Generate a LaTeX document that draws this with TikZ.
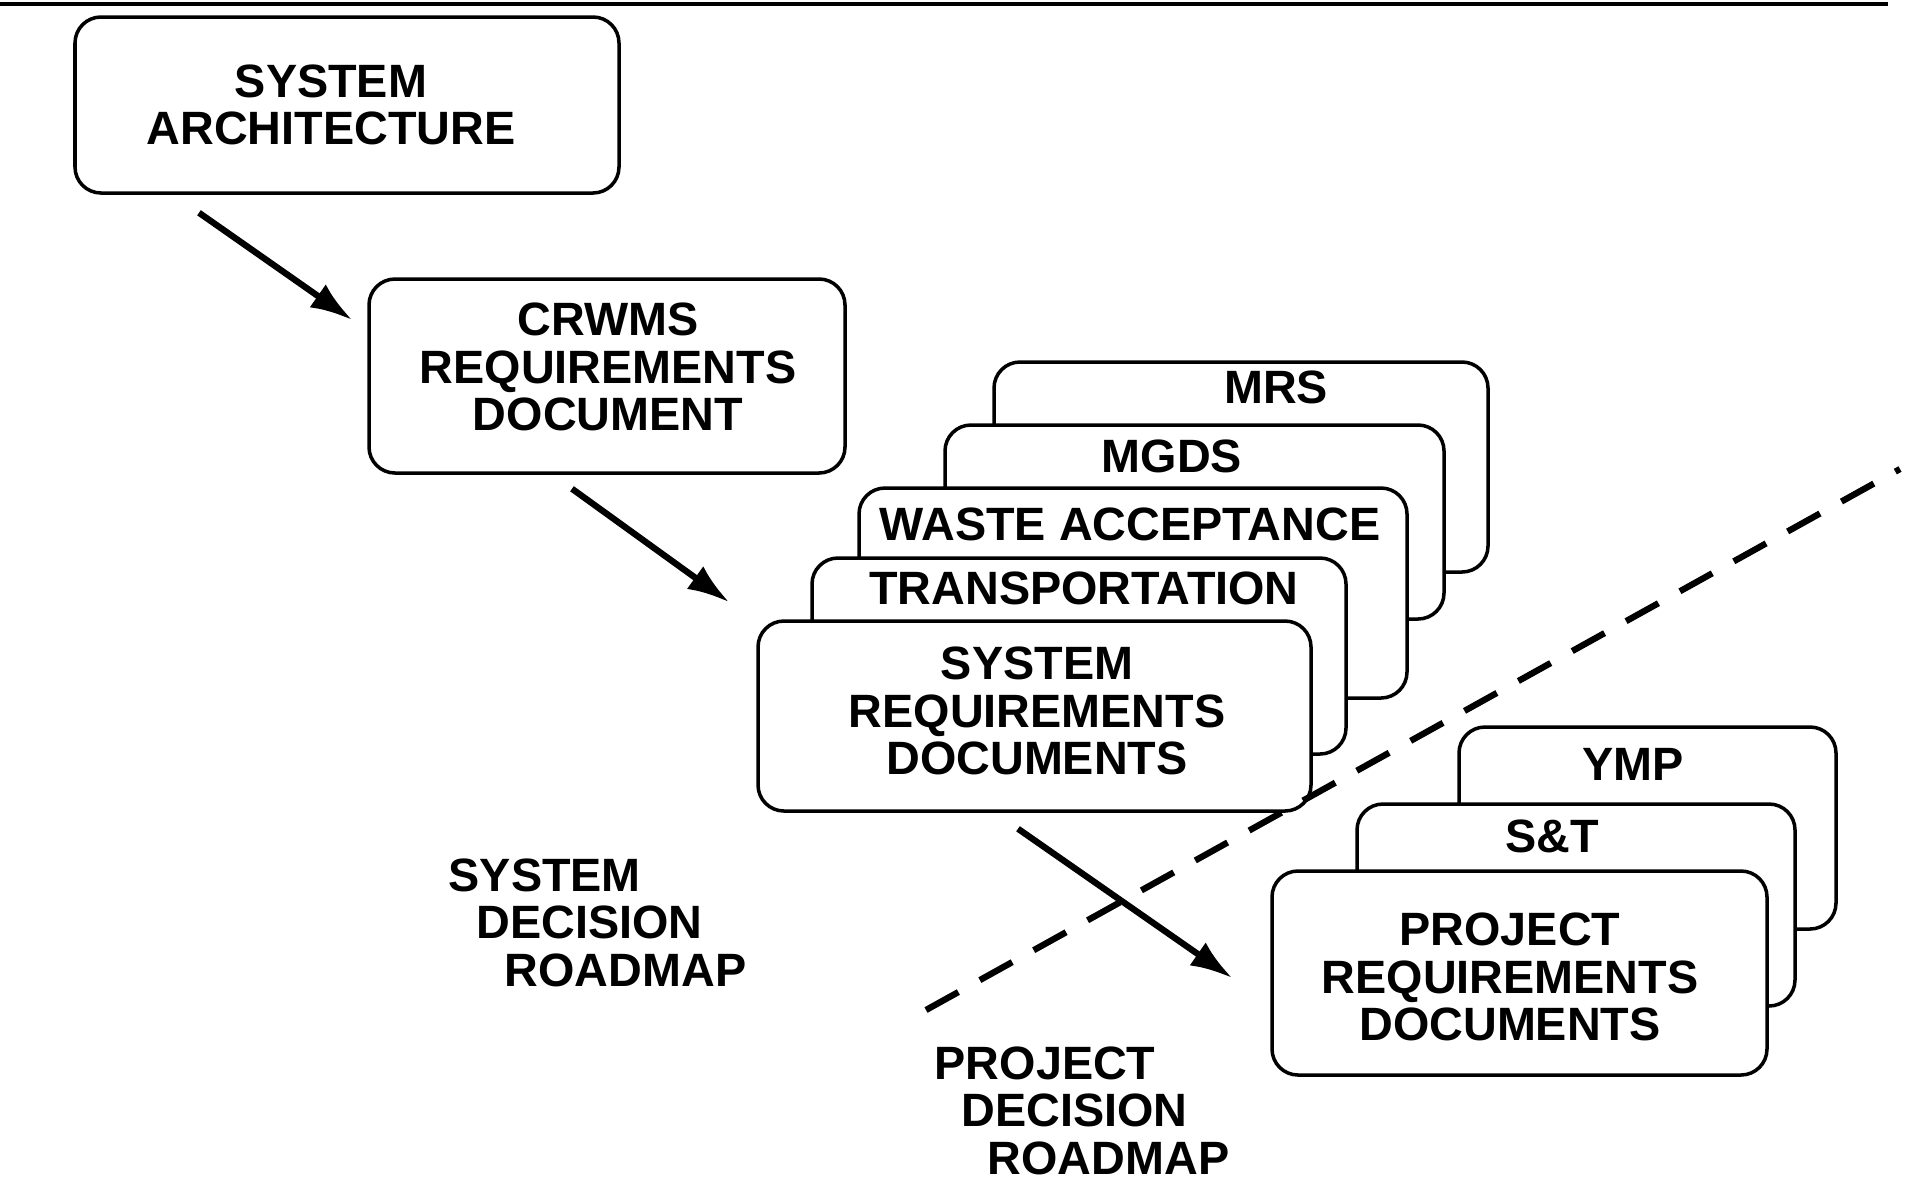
\documentclass[tikz,border=0pt]{standalone}
\usepackage{fontspec}
\setmainfont{Liberation Sans}
\usetikzlibrary{arrows.meta,positioning,calc}
\tikzset{
  label font/.style={font=\bfseries\fontsize{13.3}{13.5}\selectfont},
}

\begin{document}
\begin{tikzpicture}[
        x=0.1mm, y=-0.1mm,
        box/.style={rectangle, rounded corners=2.6mm, draw, line width=1pt, fill=white, inner sep=0pt},
        tag/.style={label font, align=center, inner sep=0pt},
        area/.style={label font, align=left, anchor=north west, inner sep=0pt},
        arrow/.style={-{Latex[length=4.2mm,width=2.8mm]}, line width=1.8pt},
        divider/.style={line width=1.8pt, dash pattern=on 3.7mm off 2.46mm}
    ]
    \useasboundingbox (0,0) rectangle (1910,1179);

    % Top rule
    \coordinate (ruleL) at (0,4);
    \coordinate (ruleR) at (1888,4);
    \draw[line width=1.4pt] (ruleL) -- (ruleR);

    % System level
    \node[box, minimum width=54.4mm, minimum height=17.6mm] (arch) at (347,105) {};
    \node[tag] (archtxt) at (331,105) {SYSTEM\\ARCHITECTURE};
    \node[box, minimum width=47.6mm, minimum height=19.4mm] (crwms) at (607,376) {};
    \node[tag] (crwmstxt) at (608,367) {CRWMS\\REQUIREMENTS\\DOCUMENT};

    % System requirements stack (back to front)
    \node[box, minimum width=49.4mm, minimum height=21.0mm] (mrs) at (1241,467) {};
    \node[tag] (mrstxt) at (1276,387) {MRS};
    \node[box, minimum width=49.9mm, minimum height=19.4mm] (mgds) at (1194.5,522) {};
    \node[tag] (mgdstxt) at (1172,456) {MGDS};
    \node[box, minimum width=54.8mm, minimum height=21.0mm] (waste) at (1133,593) {};
    \node[tag] (wastetxt) at (1130,524) {WASTE ACCEPTANCE};
    \node[box, minimum width=53.4mm, minimum height=19.6mm] (transp) at (1079,656) {};
    \node[tag] (transptxt) at (1084,588) {TRANSPORTATION};
    \node[box, minimum width=55.3mm, minimum height=19.0mm] (sysreq) at (1034.5,716) {};
    \node[tag] (sysreqtxt) at (1037,711) {SYSTEM\\REQUIREMENTS\\DOCUMENTS};

    % Project requirements stack
    \node[box, minimum width=37.7mm, minimum height=20.2mm] (ymp) at (1647.5,828) {};
    \node[tag] (ymptxt) at (1633,764) {YMP};
    \node[box, minimum width=43.8mm, minimum height=20.2mm] (snt) at (1576,905) {};
    \node[tag] (snttxt) at (1552,836) {S\&T};
    \node[box, minimum width=49.5mm, minimum height=20.4mm] (projreq) at (1519.5,973) {};
    \node[tag] (projreqtxt) at (1510,977) {PROJECT\\REQUIREMENTS\\DOCUMENTS};

    % Flow arrows
    \coordinate (a1s) at ($(arch.south)+(-148,18)$);
    \coordinate (a1e) at ($(crwms.west)+(-15,-56)$);
    \coordinate (a2s) at ($(crwms.south)+(-35,14)$);
    \coordinate (a2e) at ($(sysreq.north west)+(-27,-17)$);
    \coordinate (a3s) at ($(sysreq.south)+(-16.5,16)$);
    \coordinate (a3e) at ($(projreq.west)+(-38,5)$);
    \draw[arrow] (a1s) -- (a1e);
    \draw[arrow] (a2s) -- (a2e);
    \draw[arrow] (a3s) -- (a3e);

    % Roadmap divider
    \coordinate (divL) at (926,1010);
    \coordinate (divR) at (1900,469);
    \draw[divider] (divL) -- (divR);

    % Roadmap labels
    \node[area] (sysmap) at (448,858) {SYSTEM\\\hspace*{2.8mm}DECISION\\\hspace*{5.6mm}ROADMAP};
    \node[area] (projmap) at (934,1046) {PROJECT\\\hspace*{2.7mm}DECISION\\\hspace*{5.3mm}ROADMAP};

\end{tikzpicture}
\end{document}
